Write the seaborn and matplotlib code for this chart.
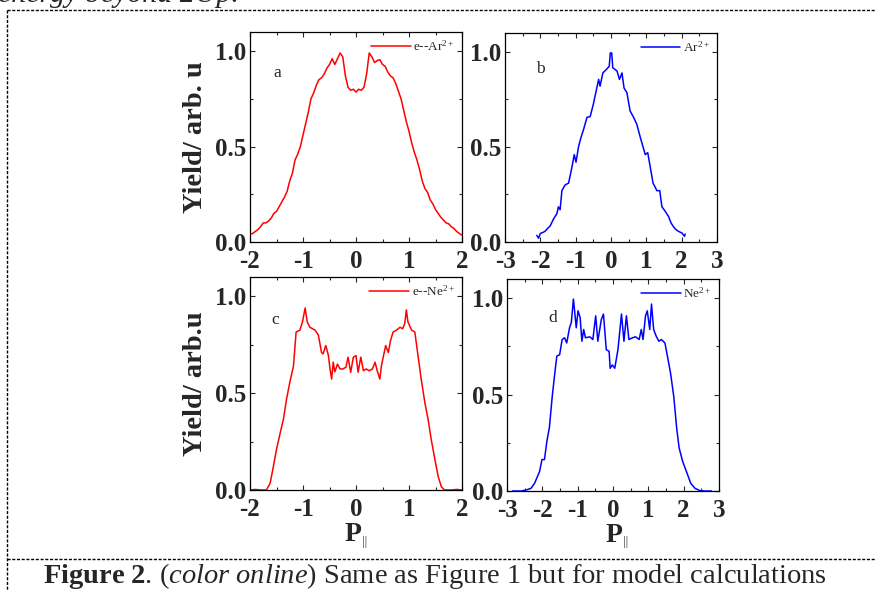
import matplotlib
matplotlib.use("Agg")
import matplotlib.pyplot as plt
import seaborn as sns
import pandas as pd
from matplotlib.ticker import MultipleLocator
from matplotlib.lines import Line2D

# ---- momentum distributions (P_parallel, yield) ----
p_e_ar = [-2.0, -1.95, -1.9, -1.85, -1.8, -1.75, -1.7, -1.65, -1.6, -1.55, -1.5, -1.45, -1.4, -1.35,
          -1.3, -1.25, -1.2, -1.15, -1.1, -1.05, -1.0, -0.95, -0.9, -0.85, -0.8, -0.75, -0.7, -0.65,
          -0.6, -0.55, -0.5, -0.45, -0.4, -0.35, -0.3, -0.25, -0.2, -0.15, -0.1, -0.05, 0.0, 0.05,
          0.1, 0.15, 0.2, 0.25, 0.3, 0.35, 0.4, 0.45, 0.5, 0.55, 0.6, 0.65, 0.7, 0.75, 0.8, 0.85,
          0.9, 0.95, 1.0, 1.05, 1.1, 1.15, 1.2, 1.25, 1.3, 1.35, 1.4, 1.45, 1.5, 1.55, 1.6, 1.65,
          1.7, 1.75, 1.8, 1.85, 1.9, 1.95, 2.0]
y_e_ar = [0.04, 0.045, 0.055, 0.065, 0.08, 0.10, 0.10, 0.11, 0.125, 0.15, 0.16, 0.185, 0.21, 0.235,
          0.265, 0.32, 0.36, 0.43, 0.46, 0.50, 0.56, 0.62, 0.68, 0.75, 0.78, 0.82, 0.85, 0.86,
          0.88, 0.91, 0.93, 0.96, 0.93, 0.96, 0.99, 0.97, 0.87, 0.81, 0.795, 0.80, 0.785, 0.80,
          0.795, 0.81, 0.88, 0.99, 0.97, 0.94, 0.95, 0.955, 0.93, 0.92, 0.89, 0.87, 0.86, 0.83, 0.79, 0.75,
          0.69, 0.63, 0.58, 0.52, 0.47, 0.43, 0.38, 0.32, 0.28, 0.26, 0.22, 0.20, 0.17, 0.15, 0.13, 0.115,
          0.10, 0.095, 0.08, 0.07, 0.055, 0.045, 0.035]

p_ar = [-2.10, -2.05, -2.00, -1.93, -1.87, -1.80, -1.72, -1.63, -1.53, -1.49, -1.44, -1.39, -1.30,
        -1.20, -1.11, -1.04, -0.99, -0.92, -0.85, -0.78, -0.68, -0.59, -0.50, -0.42, -0.35, -0.31,
        -0.23, -0.12, -0.05, -0.02, 0.02, 0.05, 0.17, 0.24, 0.31, 0.37, 0.45, 0.54, 0.64, 0.73,
        0.83, 0.97, 1.04, 1.11, 1.19, 1.30, 1.38, 1.44, 1.54, 1.63, 1.70, 1.77, 1.84, 1.91, 2.01,
        2.08, 2.10]
y_ar = [0.035, 0.02, 0.045, 0.05, 0.056, 0.07, 0.085, 0.12, 0.15, 0.185, 0.17, 0.27, 0.30,
        0.31, 0.39, 0.46, 0.42, 0.50, 0.55, 0.59, 0.656, 0.66, 0.725, 0.795, 0.856, 0.82,
        0.89, 0.91, 0.925, 0.995, 0.995, 0.917, 0.90, 0.856, 0.89, 0.81, 0.786, 0.69, 0.656, 0.62,
        0.55, 0.46, 0.47, 0.395, 0.31, 0.27, 0.27, 0.186, 0.16, 0.134, 0.10, 0.08, 0.065, 0.056, 0.047,
        0.03, 0.042]

p_e_ne = [-2.0, -1.9, -1.8, -1.69, -1.62, -1.56, -1.50, -1.43, -1.37, -1.31, -1.25, -1.18, -1.13,
          -1.06, -1.01, -0.96, -0.92, -0.87, -0.82, -0.77, -0.71, -0.65, -0.62, -0.57, -0.52, -0.49,
          -0.46, -0.43, -0.40, -0.35, -0.30, -0.25, -0.19, -0.15, -0.10, -0.05, 0.0, 0.04, 0.09,
          0.14, 0.19, 0.25, 0.31, 0.36, 0.40, 0.45, 0.48, 0.52, 0.56, 0.61, 0.65, 0.70, 0.76, 0.83,
          0.88, 0.92, 0.95, 0.98, 1.05, 1.11, 1.17, 1.23, 1.30, 1.36, 1.42, 1.49, 1.55, 1.61, 1.67,
          1.8, 1.9, 2.0]
y_e_ne = [0.0, 0.003, 0.0, 0.0, 0.035, 0.12, 0.21, 0.295, 0.365, 0.47, 0.555, 0.64, 0.816,
          0.825, 0.868, 0.94, 0.868, 0.84, 0.833, 0.825, 0.80, 0.71, 0.703, 0.746, 0.694, 0.625,
          0.573, 0.66, 0.61, 0.65, 0.625, 0.625, 0.634, 0.686, 0.608, 0.686, 0.694, 0.608, 0.686,
          0.616, 0.625, 0.616, 0.625, 0.66, 0.616, 0.573, 0.642, 0.694, 0.746, 0.71, 0.77, 0.816, 0.825, 0.84,
          0.833, 0.86, 0.93, 0.868, 0.825, 0.816, 0.694, 0.573, 0.45, 0.365, 0.26, 0.156, 0.07, 0.017, 0.0,
          0.0, 0.003, 0.0]

p_ne = [-2.84, -2.60, -2.46, -2.32, -2.22, -2.08, -2.01, -1.94, -1.87, -1.80, -1.72, -1.66, -1.59,
        -1.51, -1.44, -1.37, -1.31, -1.23, -1.18, -1.12, -1.04, -0.99, -0.93, -0.88, -0.83, -0.78,
        -0.66, -0.57, -0.49, -0.43, -0.33, -0.27, -0.19, -0.11, -0.08, -0.02, 0.05, 0.14, 0.24,
        0.31, 0.38, 0.45, 0.55, 0.64, 0.74, 0.80, 0.85, 0.92, 0.97, 1.04, 1.09, 1.15, 1.23, 1.30,
        1.37, 1.47, 1.54, 1.63, 1.72, 1.80, 1.87, 1.97, 2.08, 2.20, 2.32, 2.46, 2.60, 2.79]
y_ne = [0.0, 0.0, 0.005, 0.014, 0.04, 0.10, 0.163, 0.163, 0.26, 0.33, 0.49, 0.59, 0.70,
        0.707, 0.786, 0.795, 0.768, 0.847, 0.874, 0.996, 0.847, 0.935, 0.90, 0.777, 0.838, 0.795,
        0.80, 0.786, 0.909, 0.777, 0.89, 0.918, 0.733, 0.725, 0.637, 0.654, 0.637, 0.733, 0.918,
        0.777, 0.909, 0.786, 0.795, 0.80, 0.786, 0.838, 0.786, 0.909, 0.935, 0.838, 0.97, 0.838, 0.80, 0.777,
        0.786, 0.768, 0.70, 0.61, 0.49, 0.33, 0.225, 0.154, 0.10, 0.04, 0.014, 0.002, 0.0, 0.0]

series_labels = ["e--Ar$^{2+}$", "Ar$^{2+}$", "e--Ne$^{2+}$", "Ne$^{2+}$"]
panel_letters = ["a", "b", "c", "d"]
y_ticks = [0.0, 0.5, 1.0]
y_tick_labels = ["0.0", "0.5", "1.0"]
x_ticks_narrow = [-2, -1, 0, 1, 2]
x_ticks_wide = [-3, -2, -1, 0, 1, 2, 3]
y_label_top = "Yield/ arb. u"
y_label_bottom = "Yield/ arb.u"

sns.set_theme(style="ticks")
plt.rcParams.update({
    "font.family": ["Liberation Serif", "DejaVu Serif"],
    "mathtext.fontset": "custom",
    "mathtext.rm": "Liberation Serif",
    "mathtext.it": "Liberation Serif:italic",
    "mathtext.bf": "Liberation Serif:bold",
    "axes.linewidth": 0.9,
    "axes.edgecolor": "black",
    "xtick.direction": "in",
    "ytick.direction": "in",
    "xtick.top": True,
    "ytick.right": True,
    "xtick.major.size": 3.4,
    "ytick.major.size": 3.4,
    "xtick.minor.size": 2.0,
    "ytick.minor.size": 2.0,
    "xtick.major.width": 0.8,
    "ytick.major.width": 0.8,
    "xtick.minor.width": 0.8,
    "ytick.minor.width": 0.8,
})

W, H = 875, 590
fig = plt.figure(figsize=(W / 100, H / 100), dpi=100)
fig.patch.set_facecolor("white")

boxes = [(250, 32, 462, 242), (505, 33, 717, 242), (250, 277, 462, 490), (507, 279, 719, 491)]
axes = [fig.add_axes([l / W, 1 - b / H, (r - l) / W, (b - t) / H]) for (l, t, r, b) in boxes]

frames = [
    pd.DataFrame({"P": p_e_ar, "Yield": y_e_ar}),
    pd.DataFrame({"P": p_ar, "Yield": y_ar}),
    pd.DataFrame({"P": p_e_ne, "Yield": y_e_ne}),
    pd.DataFrame({"P": p_ne, "Yield": y_ne}),
]
colors = ["#ff0000", "#0000ff", "#ff0000", "#0000ff"]
xlims = [(-2, 2), (-3, 3), (-2, 2), (-3, 3)]
xticks = [x_ticks_narrow, x_ticks_wide, x_ticks_narrow, x_ticks_wide]
letter_pos = [(0.127, 0.805), (0.165, 0.828), (0.118, 0.798), (0.217, 0.816)]

for i, ax in enumerate(axes):
    sns.lineplot(data=frames[i], x="P", y="Yield", ax=ax, color=colors[i], lw=1.1,
                 sort=False, estimator=None, label=series_labels[i])
    ax.set_xlim(*xlims[i])
    ax.set_ylim(0, 1.1)
    ax.set_xticks(xticks[i], labels=[str(v) for v in xticks[i]], fontweight="bold", fontsize=18)
    ax.set_yticks(y_ticks, labels=y_tick_labels, fontweight="bold", fontsize=18)
    ax.xaxis.set_minor_locator(MultipleLocator(0.5))
    ax.yaxis.set_minor_locator(MultipleLocator(0.25))
    ax.tick_params(axis="x", which="both", pad=6.0)
    ax.tick_params(axis="y", which="both", pad=3.0)
    ax.set_xlabel("")
    ax.set_ylabel("")
    for s in ax.spines.values():
        s.set_visible(True)
        s.set_linewidth(0.9)
    ax.legend(loc="upper right", frameon=False, prop={"family": "Liberation Serif", "size": 9.5},
              handlelength=3.0, handletextpad=0.2, borderaxespad=0.45, borderpad=0.1)
    ax.text(*letter_pos[i], panel_letters[i], transform=ax.transAxes, fontsize=12.5,
            ha="center", va="center")

for ax, lab in [(axes[0], y_label_top), (axes[2], y_label_bottom)]:
    ax.set_ylabel(lab, fontsize=20.5, fontweight="bold")
    ax.yaxis.set_label_coords(-0.2, 0.5)

for ax, xc in [(axes[2], 0.487), (axes[3], 0.505)]:
    ax.set_xlabel("P", fontsize=20, fontweight="bold")
    ax.xaxis.set_label_coords(xc, -0.15)
    ax.annotate("||", xy=(1.0, 0.0), xycoords=ax.xaxis.label, xytext=(0.3, -0.5),
                textcoords="offset points", fontsize=9.5, ha="left", va="bottom", color="#333333")

# page frame and surrounding text
dash = dict(color="black", lw=1.0, linestyle=(0, (2.2, 1.2)), transform=fig.transFigure)
fig.add_artist(Line2D([7 / W, 1], [1 - 10 / H, 1 - 10 / H], **dash))
fig.add_artist(Line2D([7 / W, 7 / W], [1 - 10 / H, 0], **dash))
fig.add_artist(Line2D([7 / W, 1], [1 - 559 / H, 1 - 559 / H], **dash))

fig.text(-0.002, 1 - 2.5 / H, "energy beyond 2Up.", fontsize=21.5, style="italic", va="baseline")
fig.text(43 / W, 1 - 583 / H,
         r"$\mathbf{Figure\ 2}$. $\mathit{(color\ online)}$ Same as Figure 1 but for model calculations",
         fontsize=20.5, va="baseline")

fig.savefig("out.png", dpi=100)
